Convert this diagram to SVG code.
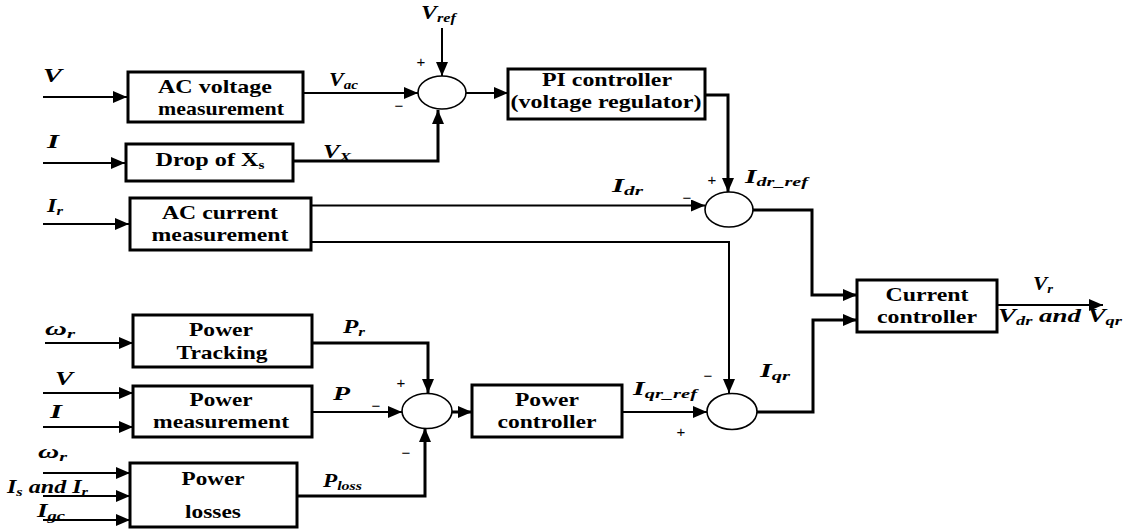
<svg xmlns="http://www.w3.org/2000/svg" width="1124" height="529" viewBox="0 0 1124 529">
<defs>
<marker id="ah" viewBox="0 0 14 12" refX="14" refY="6" markerWidth="14" markerHeight="12" markerUnits="userSpaceOnUse" orient="auto">
<path d="M0,0 L14,6 L0,12 Z" fill="#000"/>
</marker>
<style>
.box{fill:#fff;stroke:#000;stroke-width:3}
.sum{fill:#fff;stroke:#000;stroke-width:1.6}
.bt{font-family:"Liberation Serif","Times New Roman",serif;font-weight:bold;font-size:19px;fill:#000;text-anchor:middle}
.lb{font-family:"Liberation Serif","Times New Roman",serif;font-weight:bold;font-style:italic;font-size:19px;fill:#000}
.sub{font-size:13px}
.sg{font-family:"Liberation Sans",Arial,sans-serif;font-size:15px;fill:#000;text-anchor:middle}
.c{fill:none;stroke:#000;stroke-width:2}
.ct{fill:none;stroke:#000;stroke-width:3}
</style>
</defs>
<rect width="1124" height="529" fill="#fff"/>

<g id="connectors">
<path class="c" d="M43,97 H127" marker-end="url(#ah)"/>
<path class="c" d="M43,163 H125" marker-end="url(#ah)"/>
<path class="c" d="M43,224 H129" marker-end="url(#ah)"/>
<path class="c" d="M303,93 H418" marker-end="url(#ah)"/>
<path class="c" d="M442,28 V76" marker-end="url(#ah)"/>
<path class="ct" d="M293,161 H438 V110" marker-end="url(#ah)"/>
<path class="c" d="M466,93 H508" marker-end="url(#ah)"/>
<path class="ct" d="M705,95 H728 V192" marker-end="url(#ah)"/>
<path class="c" d="M311,205.5 H705" marker-end="url(#ah)"/>
<path class="c" d="M311,242 H729 V393" marker-end="url(#ah)"/>
<path class="ct" d="M753,210 H812 V295 H857" marker-end="url(#ah)"/>
<path class="ct" d="M757,412 H813 V320 H857" marker-end="url(#ah)"/>
<path class="c" d="M997,305 H1103" marker-end="url(#ah)"/>
<path class="c" d="M45,343 H133" marker-end="url(#ah)"/>
<path class="ct" d="M312,343 H428 V393" marker-end="url(#ah)"/>
<path class="c" d="M43,393 H133" marker-end="url(#ah)"/>
<path class="c" d="M43,427 H133" marker-end="url(#ah)"/>
<path class="c" d="M312,412 H402" marker-end="url(#ah)"/>
<path class="ct" d="M452,412 H472" marker-end="url(#ah)"/>
<path class="ct" d="M297,496 H425 V428" marker-end="url(#ah)"/>
<path class="c" d="M43,473 H130" marker-end="url(#ah)"/>
<path class="c" d="M43,496 H130" marker-end="url(#ah)"/>
<path class="c" d="M43,520 H130" marker-end="url(#ah)"/>
<path class="c" d="M622,412 H707" marker-end="url(#ah)"/>
</g>

<g id="ac-voltage">
<rect class="box" x="128" y="72" width="175" height="50"/>
<text class="bt" x="215" y="93" textLength="114" lengthAdjust="spacingAndGlyphs">AC voltage</text>
<text class="bt" x="221" y="115" textLength="126" lengthAdjust="spacingAndGlyphs">measurement</text>
</g>
<g id="drop-xs">
<rect class="box" x="126" y="144" width="167" height="37"/>
<text class="bt" x="210" y="166" textLength="109" lengthAdjust="spacingAndGlyphs">Drop of X<tspan font-size="12" dy="3">s</tspan></text>
</g>
<g id="ac-current">
<rect class="box" x="130" y="198" width="181" height="52"/>
<text class="bt" x="220" y="219" textLength="116" lengthAdjust="spacingAndGlyphs">AC current</text>
<text class="bt" x="220" y="241" textLength="137" lengthAdjust="spacingAndGlyphs">measurement</text>
</g>
<g id="sum-v">
<ellipse class="sum" cx="442" cy="92.5" rx="24" ry="16.5"/>
</g>
<g id="pi-controller">
<rect class="box" x="508" y="69" width="197" height="50"/>
<text class="bt" x="607" y="86" textLength="130" lengthAdjust="spacingAndGlyphs">PI controller</text>
<text class="bt" x="606" y="108" textLength="191" lengthAdjust="spacingAndGlyphs">(voltage regulator)</text>
</g>
<g id="sum-idr">
<ellipse class="sum" cx="729" cy="209.5" rx="24" ry="17.5"/>
</g>
<g id="current-controller">
<rect class="box" x="857" y="280" width="140" height="52"/>
<text class="bt" x="927" y="301" textLength="83" lengthAdjust="spacingAndGlyphs">Current</text>
<text class="bt" x="927" y="323" textLength="100" lengthAdjust="spacingAndGlyphs">controller</text>
</g>
<g id="power-tracking">
<rect class="box" x="133" y="315" width="179" height="52"/>
<text class="bt" x="221" y="336" textLength="64" lengthAdjust="spacingAndGlyphs">Power</text>
<text class="bt" x="222" y="359" textLength="91" lengthAdjust="spacingAndGlyphs">Tracking</text>
</g>
<g id="power-measurement">
<rect class="box" x="133" y="386" width="179" height="51"/>
<text class="bt" x="221" y="406" textLength="63" lengthAdjust="spacingAndGlyphs">Power</text>
<text class="bt" x="221" y="428" textLength="136" lengthAdjust="spacingAndGlyphs">measurement</text>
</g>
<g id="power-losses">
<rect class="box" x="130" y="463" width="167" height="64"/>
<text class="bt" x="213" y="485" textLength="63" lengthAdjust="spacingAndGlyphs">Power</text>
<text class="bt" x="213" y="518" textLength="56" lengthAdjust="spacingAndGlyphs">losses</text>
</g>
<g id="sum-p">
<ellipse class="sum" cx="427" cy="411" rx="25" ry="17.5"/>
</g>
<g id="power-controller">
<rect class="box" x="472" y="385" width="150" height="52"/>
<text class="bt" x="547" y="406" textLength="64" lengthAdjust="spacingAndGlyphs">Power</text>
<text class="bt" x="547" y="428" textLength="99" lengthAdjust="spacingAndGlyphs">controller</text>
</g>
<g id="sum-iqr">
<ellipse class="sum" cx="732" cy="411.5" rx="25" ry="18"/>
</g>

<g id="labels">
<text class="lb" x="43" y="82" textLength="19" lengthAdjust="spacingAndGlyphs">V</text>
<text class="lb" x="47" y="148" textLength="12" lengthAdjust="spacingAndGlyphs">I</text>
<text class="lb" x="47" y="212" textLength="16" lengthAdjust="spacingAndGlyphs">I<tspan class="sub" dy="3">r</tspan></text>
<text class="lb" x="329" y="86" textLength="29" lengthAdjust="spacingAndGlyphs">V<tspan class="sub" dy="3">ac</tspan></text>
<text class="lb" x="421" y="19" textLength="35" lengthAdjust="spacingAndGlyphs">V<tspan class="sub" dy="3">ref</tspan></text>
<text class="lb" x="323" y="158" textLength="28" lengthAdjust="spacingAndGlyphs">V<tspan class="sub" dy="3">X</tspan></text>
<text class="lb" x="612" y="192" textLength="31" lengthAdjust="spacingAndGlyphs">I<tspan class="sub" dy="3">dr</tspan></text>
<text class="lb" x="745" y="183" textLength="63" lengthAdjust="spacingAndGlyphs">I<tspan class="sub" dy="3">dr_ref</tspan></text>
<text class="lb" x="1033" y="290" textLength="20" lengthAdjust="spacingAndGlyphs">V<tspan class="sub" dy="3">r</tspan></text>
<text class="lb" x="998" y="322" textLength="124" lengthAdjust="spacingAndGlyphs">V<tspan class="sub" dy="3">dr</tspan><tspan dy="-3"> and V</tspan><tspan class="sub" dy="3">qr</tspan></text>
<text class="lb" x="45" y="335" textLength="30" lengthAdjust="spacingAndGlyphs">ω<tspan class="sub" dy="3">r</tspan></text>
<text class="lb" x="343" y="333" textLength="22" lengthAdjust="spacingAndGlyphs">P<tspan class="sub" dy="3">r</tspan></text>
<text class="lb" x="55" y="385" textLength="18" lengthAdjust="spacingAndGlyphs">V</text>
<text class="lb" x="50" y="418" textLength="12" lengthAdjust="spacingAndGlyphs">I</text>
<text class="lb" x="333" y="400" textLength="17" lengthAdjust="spacingAndGlyphs">P</text>
<text class="lb" x="38" y="458" textLength="29" lengthAdjust="spacingAndGlyphs">ω<tspan class="sub" dy="3">r</tspan></text>
<text class="lb" x="7" y="493" textLength="81" lengthAdjust="spacingAndGlyphs">I<tspan class="sub" dy="3">s</tspan><tspan dy="-3"> and I</tspan><tspan class="sub" dy="3">r</tspan></text>
<text class="lb" x="37" y="517" textLength="28" lengthAdjust="spacingAndGlyphs">I<tspan class="sub" dy="3">gc</tspan></text>
<text class="lb" x="323" y="487" textLength="39" lengthAdjust="spacingAndGlyphs">P<tspan class="sub" dy="3">loss</tspan></text>
<text class="lb" x="633" y="395" textLength="64" lengthAdjust="spacingAndGlyphs">I<tspan class="sub" dy="3">qr_ref</tspan></text>
<text class="lb" x="760" y="377" textLength="30" lengthAdjust="spacingAndGlyphs">I<tspan class="sub" dy="3">qr</tspan></text>
</g>

<g id="signs">
<text class="sg" x="421" y="67">+</text>
<text class="sg" x="399" y="111">−</text>
<text class="sg" x="712" y="185">+</text>
<text class="sg" x="687" y="203">−</text>
<text class="sg" x="401" y="388">+</text>
<text class="sg" x="376" y="411">−</text>
<text class="sg" x="406" y="458">−</text>
<text class="sg" x="708" y="381">−</text>
<text class="sg" x="681" y="437">+</text>
</g>
</svg>
